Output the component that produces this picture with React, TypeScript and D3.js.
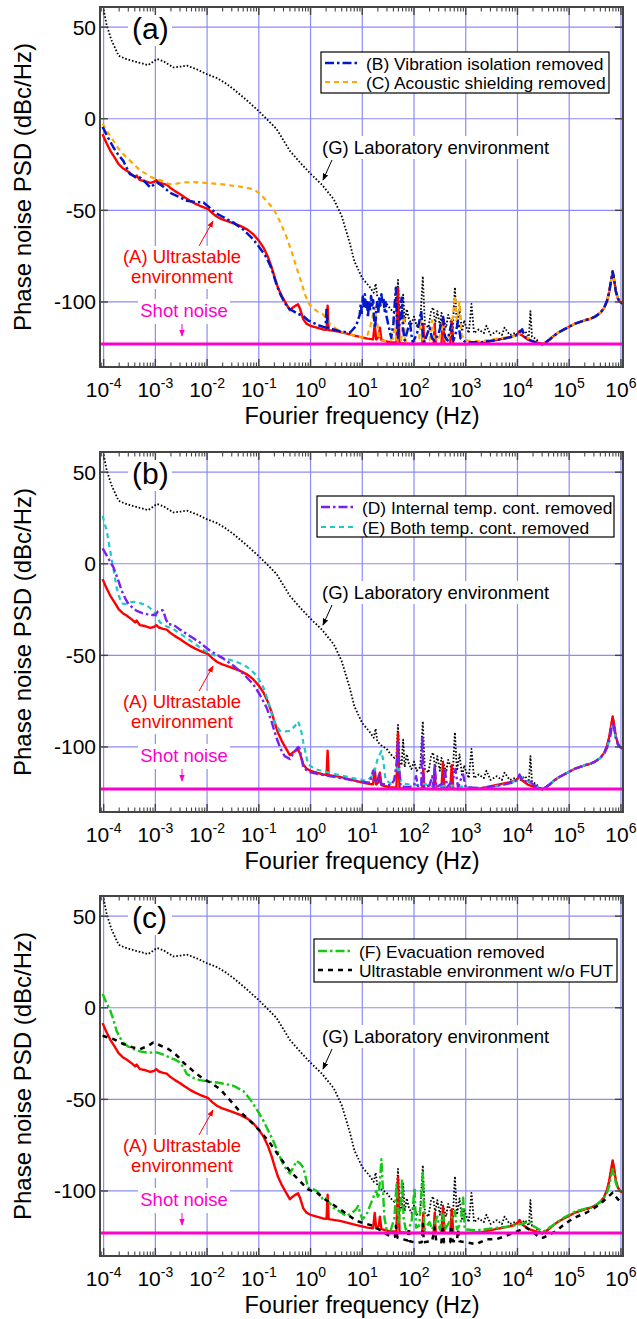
import React from 'react';
import * as d3 from 'd3';

// every series: [log10(frequency / Hz), phase noise PSD in dBc/Hz]
type Pt = [number, number];

const decades = [-4, -3, -2, -1, 0, 1, 2, 3, 4, 5, 6];
const yTicks = [-100, -50, 0, 50];
const shotNoise = -123;

// shared high-frequency part (30 kHz .. 1 MHz)
const tailA: Pt[] = [
  [4.55, -122], [4.62, -120.5], [4.7, -118.5], [4.8, -116.5], [4.9, -115], [5.0, -113.5],
  [5.1, -112], [5.2, -111], [5.3, -110], [5.4, -109.3], [5.5, -108], [5.6, -106],
  [5.67, -103.5], [5.73, -99.5], [5.77, -95], [5.8, -90], [5.84, -83.3], [5.87, -88],
  [5.9, -94], [5.94, -98], [5.98, -100], [6.04, -101],
];
const tailD: Pt[] = [
  [4.55, -122], [4.62, -120.5], [4.7, -118.5], [4.8, -116.5], [4.9, -115], [5.0, -113.5],
  [5.1, -112], [5.2, -111], [5.3, -110], [5.4, -109.3], [5.5, -108], [5.6, -106],
  [5.67, -104], [5.73, -100.5], [5.77, -97], [5.8, -93], [5.84, -86.5], [5.87, -90],
  [5.9, -95], [5.94, -98.5], [5.98, -100], [6.04, -101],
];
const tailF: Pt[] = [
  [4.55, -121.5], [4.62, -120], [4.7, -118.5], [4.8, -116.5], [4.9, -114.5], [5.0, -113],
  [5.1, -111.5], [5.2, -110.5], [5.3, -109.8], [5.4, -109.2], [5.5, -108], [5.6, -106],
  [5.67, -104], [5.73, -101], [5.77, -97.5], [5.8, -93.5], [5.84, -88], [5.87, -91],
  [5.9, -95.5], [5.94, -98.5], [5.98, -100], [6.04, -101],
];

// (G) Laboratory environment
const labEnv: Pt[] = [
  [-4.0, 59.6], [-3.94, 51], [-3.85, 43], [-3.71, 34.4], [-3.6, 33], [-3.49, 32], [-3.3, 30.5],
  [-3.14, 29.3], [-3.05, 31], [-2.97, 32.6], [-2.85, 31.5], [-2.65, 28], [-2.5, 28.5],
  [-2.39, 29], [-2.2, 27], [-2.01, 24.4], [-1.81, 22.2], [-1.65, 19.5], [-1.49, 16.2],
  [-1.25, 10.5], [-1.01, 4.4], [-0.8, -1.5], [-0.66, -5.5], [-0.4, -17.5], [-0.2, -24],
  [0, -30], [0.22, -36], [0.45, -44], [0.6, -53], [0.75, -67], [0.85, -78], [1.0, -87],
  [1.15, -92], [1.22, -95], [1.26, -90], [1.29, -97], [1.36, -99], [1.47, -101], [1.55, -104],
  [1.62, -106], [1.66, -105], [1.69, -88], [1.72, -107], [1.76, -110], [1.79, -96],
  [1.82, -111], [1.86, -104], [1.9, -109], [1.95, -112], [2.0, -108], [2.05, -113],
  [2.12, -111], [2.17, -86], [2.21, -112], [2.28, -114], [2.33, -105], [2.37, -103],
  [2.41, -112], [2.45, -105], [2.5, -113], [2.53, -106], [2.56, -108], [2.62, -114],
  [2.66, -107], [2.7, -110], [2.75, -115], [2.79, -92], [2.83, -113], [2.88, -104],
  [2.93, -116], [2.97, -110], [3.0, -113], [3.06, -117], [3.11, -101], [3.16, -117],
  [3.25, -115], [3.35, -117], [3.4, -113], [3.48, -118], [3.6, -116], [3.7, -118],
  [3.75, -114], [3.85, -118], [3.95, -117], [4.05, -118], [4.15, -116], [4.22, -119],
  [4.25, -105], [4.28, -119], [4.35, -120], [4.45, -123], [4.5, -123.5],
  ...tailA,
];

// (A) Ultrastable environment
const ultrastable: Pt[] = [
  [-4.02, -8.4], [-3.95, -13], [-3.87, -17.5], [-3.78, -21.5], [-3.71, -24.8], [-3.63, -27],
  [-3.55, -28.4], [-3.45, -30.5], [-3.39, -32], [-3.36, -31], [-3.3, -33.5], [-3.2, -34],
  [-3.1, -35], [-3.03, -34.5], [-2.98, -33.5], [-2.93, -34.8], [-2.85, -35.5], [-2.78, -36],
  [-2.72, -37.5], [-2.62, -39.5], [-2.52, -41.2], [-2.43, -43], [-2.33, -44.8],
  [-2.23, -46.3], [-2.14, -47.5], [-2.05, -48.5], [-1.98, -49.3], [-1.9, -51.5],
  [-1.81, -53.5], [-1.72, -54.8], [-1.62, -55.7], [-1.5, -57], [-1.36, -58.5],
  [-1.22, -60.5], [-1.11, -63], [-1.0, -66.5], [-0.91, -70.3], [-0.83, -75], [-0.75, -81.3],
  [-0.69, -87], [-0.63, -92.2], [-0.56, -96.5], [-0.5, -99.5], [-0.44, -102.5],
  [-0.4, -104.5], [-0.34, -103], [-0.29, -102], [-0.24, -101.3], [-0.2, -104],
  [-0.14, -109.5], [-0.08, -111.8], [0, -113], [0.12, -114], [0.24, -115], [0.31, -115.2],
  [0.33, -102], [0.35, -115.4], [0.57, -116.3], [0.89, -118.6], [1.1, -120], [1.21, -120.4],
  [1.24, -112], [1.27, -120.5], [1.32, -119], [1.34, -114], [1.37, -120.8], [1.53, -122],
  [1.66, -122.3], [1.69, -92.5], [1.72, -122.5], [1.98, -123], [2.16, -122.8], [2.18, -112],
  [2.2, -122.8], [2.38, -123], [2.4, -112], [2.42, -123], [2.53, -123], [2.56, -108.5],
  [2.59, -123], [2.7, -123], [2.73, -110], [2.76, -123], [3.0, -123], [3.3, -122.5],
  [3.65, -120.4], [3.9, -119], [4.0, -117.5], [4.04, -115.8], [4.08, -118], [4.2, -120.5],
  [4.35, -122], [4.48, -123],
  ...tailA,
];

// (B) Vibration isolation removed
const vibration: Pt[] = [
  [-4.02, -4.4], [-3.92, -10], [-3.81, -15.7], [-3.72, -19.5], [-3.62, -23], [-3.55, -27],
  [-3.49, -30.2], [-3.4, -31.5], [-3.3, -32], [-3.2, -34.5], [-3.1, -37.5], [-3.03, -36],
  [-2.97, -34.8], [-2.85, -37], [-2.72, -40.3], [-2.55, -42.5], [-2.39, -44.8], [-2.2, -45.5],
  [-2.07, -45.7], [-1.95, -48.5], [-1.85, -51.2], [-1.7, -53.5], [-1.49, -56.7], [-1.3, -60.5],
  [-1.11, -65.7], [-0.98, -70.5], [-0.85, -75.8], [-0.75, -82], [-0.66, -90.3], [-0.58, -96],
  [-0.5, -100.4], [-0.42, -103.5], [-0.34, -104.9], [-0.24, -106.5], [-0.14, -107.7],
  [-0.05, -110], [0.05, -111.3], [0.18, -113], [0.29, -114], [0.31, -103], [0.33, -114],
  [0.57, -116], [0.76, -116.8], [0.85, -114], [0.89, -112.2], [0.95, -107], [0.97, -101],
  [0.99, -106], [1.01, -97], [1.03, -103], [1.05, -95.8], [1.07, -104], [1.09, -100],
  [1.11, -108.6], [1.13, -99], [1.15, -104], [1.17, -96.7], [1.19, -103], [1.21, -99],
  [1.23, -110], [1.25, -114], [1.27, -104], [1.29, -100], [1.31, -106], [1.33, -97],
  [1.35, -102], [1.37, -95.8], [1.39, -101], [1.41, -98], [1.43, -104.9], [1.45, -100],
  [1.47, -108], [1.5, -112], [1.56, -119.5], [1.6, -112],
  [1.65, -92.2], [1.67, -110], [1.69, -119.5], [1.73, -108], [1.76, -97.7], [1.79, -115],
  [1.82, -121], [1.87, -116], [1.92, -110.4], [1.95, -118], [1.98, -122], [2.06, -117],
  [2.14, -104.9], [2.17, -118], [2.2, -122], [2.25, -118], [2.3, -114], [2.35, -120],
  [2.4, -121], [2.48, -117], [2.56, -107.7], [2.6, -119], [2.65, -121], [2.72, -112.2],
  [2.76, -121], [2.8, -118], [2.85, -110.4], [2.9, -120], [3.0, -122], [3.3, -122],
  [3.65, -120.5], [3.9, -119], [4.0, -118], [4.09, -114.9], [4.14, -119], [4.25, -121],
  [4.4, -122.5], [4.48, -123],
  ...tailA,
];

// (C) Acoustic shielding removed
const acoustic: Pt[] = [
  [-4.02, -2.6], [-3.92, -7.5], [-3.81, -12], [-3.72, -16], [-3.62, -19.3], [-3.52, -22],
  [-3.42, -24.8], [-3.3, -28], [-3.17, -30.2], [-3.07, -32], [-2.97, -33], [-2.85, -34],
  [-2.75, -35.5], [-2.65, -35.7], [-2.55, -35.2], [-2.46, -34.8], [-2.3, -34.6],
  [-2.14, -34.8], [-1.9, -35.3], [-1.7, -35.8], [-1.49, -36.6], [-1.3, -37.3], [-1.11, -38.4],
  [-0.98, -40.8], [-0.85, -44.8], [-0.75, -48], [-0.66, -52], [-0.56, -58], [-0.46, -64.9],
  [-0.36, -73], [-0.27, -81.3], [-0.18, -89], [-0.11, -95.8], [-0.03, -101], [0.05, -103.5],
  [0.15, -105.5], [0.24, -106.7], [0.32, -110], [0.41, -113], [0.57, -116], [0.8, -118],
  [1.0, -119.5], [1.1, -118], [1.15, -114], [1.2, -108], [1.24, -103], [1.28, -110],
  [1.32, -118], [1.36, -121], [1.5, -121.5], [1.6, -120], [1.63, -108], [1.66, -121],
  [1.75, -121], [1.8, -108], [1.83, -121], [2.0, -122], [2.1, -120], [2.14, -110],
  [2.18, -121], [2.3, -121], [2.35, -110], [2.4, -121], [2.5, -119], [2.55, -112],
  [2.6, -121], [2.7, -118], [2.75, -108], [2.79, -96.7], [2.83, -110], [2.88, -100],
  [2.92, -118], [3.0, -121], [3.3, -121.5], [3.6, -120], [3.9, -119], [4.0, -118],
  [4.1, -116.5], [4.2, -119.5], [4.35, -122], [4.48, -123],
  ...tailA,
];

// (D) Internal temp. cont. removed
const internalTemp: Pt[] = [
  [-4.02, 8.4], [-3.92, 3.5], [-3.81, -2], [-3.73, -8], [-3.65, -14.8], [-3.58, -19],
  [-3.52, -22], [-3.44, -24], [-3.36, -25.7], [-3.25, -27], [-3.17, -27.5], [-3.05, -28],
  [-3.0, -28], [-2.95, -26], [-2.9, -25.3], [-2.85, -25.5], [-2.8, -30], [-2.75, -33],
  [-2.65, -33.3], [-2.52, -36], [-2.39, -38.4], [-2.25, -41], [-2.14, -43], [-2.04, -45.3],
  [-1.94, -47.5], [-1.7, -51.5], [-1.49, -55.7], [-1.3, -60], [-1.11, -65.7], [-0.98, -71.5],
  [-0.85, -78.5], [-0.75, -86.5], [-0.66, -94.9], [-0.58, -101], [-0.5, -105], [-0.4, -106.6],
  [-0.3, -102.2], [-0.24, -100], [-0.21, -101], [-0.14, -111], [-0.05, -113.5], [0.18, -115],
  [0.5, -116.5], [0.89, -118.6], [1.15, -119.5], [1.19, -115], [1.21, -113], [1.23, -119.8],
  [1.3, -118], [1.33, -114], [1.36, -120], [1.55, -121], [1.62, -118], [1.66, -109.5],
  [1.69, -97.6], [1.71, -110], [1.74, -121.5], [1.9, -122], [2.0, -121], [2.04, -116],
  [2.08, -122], [2.14, -121], [2.16, -94], [2.19, -122], [2.3, -121], [2.35, -116],
  [2.38, -122], [2.4, -109.5], [2.43, -122], [2.55, -120], [2.6, -113], [2.64, -122],
  [2.75, -118], [2.8, -112], [2.85, -122], [2.9, -118], [2.95, -115], [3.0, -122],
  [3.3, -122.5], [3.65, -121], [3.9, -119.5], [4.0, -118], [4.04, -115], [4.1, -118.5],
  [4.25, -119], [4.3, -120.5], [4.48, -123],
  ...tailD,
];

// (E) Both temp. cont. removed
const bothTemp: Pt[] = [
  [-4.02, 26.2], [-3.98, 22], [-3.94, 18], [-3.89, 10], [-3.84, 1.6], [-3.79, -6],
  [-3.75, -13], [-3.7, -18], [-3.65, -21.7], [-3.55, -22], [-3.48, -21], [-3.42, -20.8],
  [-3.3, -21.5], [-3.17, -22.6], [-3.07, -25], [-3.0, -27.5], [-2.91, -32], [-2.8, -34],
  [-2.65, -35.7], [-2.45, -39.5], [-2.27, -43], [-2.1, -46.5], [-1.94, -49.3], [-1.7, -51.3],
  [-1.49, -53], [-1.3, -55], [-1.17, -57.5], [-1.03, -61.5], [-0.91, -67.6], [-0.83, -74],
  [-0.75, -82.1], [-0.67, -88], [-0.59, -91.3], [-0.5, -91.5], [-0.4, -91.3], [-0.3, -88.5],
  [-0.24, -86], [-0.19, -90], [-0.14, -97.5], [-0.09, -104], [-0.05, -109.5], [0.1, -112.2],
  [0.5, -115], [0.9, -117.5], [1.1, -118.5], [1.18, -116], [1.25, -112], [1.3, -106],
  [1.37, -102.2], [1.41, -108], [1.45, -118], [1.55, -120], [1.62, -117], [1.66, -113],
  [1.7, -110], [1.74, -118], [1.8, -120], [2.0, -121], [2.16, -120], [2.4, -121.5],
  [2.7, -121], [3.0, -122], [3.3, -122.5], [3.65, -121], [3.9, -119.5], [4.0, -117],
  [4.08, -116.5], [4.15, -118], [4.3, -120.5], [4.48, -123],
  ...tailD,
];

// (F) Evacuation removed
const evacuation: Pt[] = [
  [-4.02, 7.5], [-3.95, 3], [-3.87, -1.6], [-3.8, -7.5], [-3.75, -12.6], [-3.68, -16.5],
  [-3.62, -19], [-3.52, -21.3], [-3.42, -22.6], [-3.3, -23.8], [-3.17, -24.4], [-3.05, -24.5],
  [-2.97, -24.4], [-2.85, -25.6], [-2.72, -27.2], [-2.62, -28.3], [-2.52, -29.9], [-2.45, -33],
  [-2.39, -36.2], [-2.25, -38.5], [-2.14, -39.5], [-1.95, -40.3], [-1.81, -40.8],
  [-1.65, -41.6], [-1.49, -42.6], [-1.3, -45.5], [-1.17, -49.9], [-1.05, -55], [-0.91, -61.7],
  [-0.82, -67], [-0.72, -72.7], [-0.62, -79.5], [-0.53, -85.4], [-0.46, -88.5], [-0.4, -90.5],
  [-0.33, -87], [-0.27, -83.6], [-0.2, -85], [-0.14, -87.3], [-0.09, -93], [-0.05, -98.2],
  [0.05, -99], [0.12, -100], [0.18, -102], [0.24, -104.6], [0.3, -104], [0.35, -106],
  [0.44, -109.1], [0.55, -111], [0.69, -113.7], [0.8, -112], [0.88, -110], [0.92, -108.2],
  [0.96, -112], [1.0, -115.5], [1.08, -113], [1.15, -108], [1.21, -103.7], [1.27, -100],
  [1.31, -104], [1.34, -95], [1.37, -82.7], [1.4, -100], [1.43, -115], [1.47, -121],
  [1.55, -121.3], [1.62, -115], [1.66, -96.4], [1.7, -118], [1.74, -109], [1.77, -93.6],
  [1.8, -115], [1.84, -121], [1.95, -118], [2.01, -98.2], [2.04, -120], [2.1, -119],
  [2.17, -90], [2.2, -121], [2.3, -117], [2.35, -121], [2.45, -114], [2.5, -121],
  [2.56, -112.7], [2.6, -121], [2.7, -116], [2.79, -111], [2.83, -121], [2.9, -118],
  [2.95, -103.7], [2.98, -121], [3.2, -121.5], [3.5, -120.5], [3.8, -119.5], [4.0, -118.5],
  [4.15, -117.5], [4.23, -116.4], [4.3, -119], [4.45, -121.5], [4.5, -122],
  ...tailF,
];

// Ultrastable environment w/o FUT
const withoutFut: Pt[] = [
  [-4.02, -15.3], [-3.81, -17.1], [-3.62, -19.8], [-3.45, -21.5], [-3.3, -22.6], [-3.15, -21],
  [-3.04, -19], [-2.95, -20], [-2.85, -21.3], [-2.75, -22.5], [-2.65, -24.4], [-2.55, -27],
  [-2.46, -29.9], [-2.33, -33], [-2.2, -36.2], [-2.07, -38.8], [-1.94, -40.8], [-1.75, -44.4],
  [-1.62, -48.5], [-1.49, -52.6], [-1.37, -56.5], [-1.24, -59.9], [-1.1, -63.7],
  [-0.98, -67.2], [-0.79, -73.6], [-0.59, -81.8], [-0.4, -89.1], [-0.21, -94.5],
  [-0.05, -99.1], [0.12, -100.9], [0.3, -105], [0.57, -110], [0.89, -116.4], [1.21, -119],
  [1.53, -124.6], [1.63, -125], [1.65, -119], [1.68, -125.5], [1.79, -126.4], [1.88, -127],
  [1.9, -120], [1.92, -127.5], [2.05, -128.3], [2.15, -128], [2.17, -118], [2.19, -128],
  [2.35, -127.4], [2.4, -120], [2.43, -127.5], [2.53, -128], [2.55, -119], [2.58, -128],
  [2.7, -128], [2.72, -119], [2.75, -127.5], [2.83, -127.5], [2.85, -121], [2.88, -127.5],
  [3.0, -128], [3.2, -129.1], [3.4, -126.4], [3.59, -126.4], [3.85, -123.7], [4.17, -120],
  [4.3, -122.5], [4.43, -125.5], [4.5, -125.5], [4.6, -124], [4.75, -121.9], [4.87, -119],
  [5.0, -116.4], [5.15, -114], [5.33, -111.9], [5.47, -109.5], [5.59, -107.3], [5.72, -104],
  [5.8, -102], [5.84, -100.9], [5.9, -103], [5.94, -104.5], [6.0, -106], [6.04, -106.5],
];

const FONT = '"Liberation Sans", Arial, Helvetica, sans-serif';
const GRID = '#8c8cf5';
const FRAME = '#444';

const L = 100, R = 623, T = 7, B = 367;

const x = d3.scaleLog().domain([10 ** -4.07, 10 ** 6.04]).range([L, R]);
const y = d3.scaleLinear().domain([-135.5, 61]).range([B, T]);

const line = d3
  .line<Pt>()
  .x((d) => x(10 ** d[0]))
  .y((d) => y(d[1]));

type Series = { data: Pt[]; color: string; width: number; dash?: string };

const G: Series = { data: labEnv, color: '#000', width: 1.8, dash: '1.6,1.9' };
const A: Series = { data: ultrastable, color: '#ff0000', width: 2.4 };
const Bv: Series = { data: vibration, color: '#0018c8', width: 2.5, dash: '9,3,2.5,3' };
const C: Series = { data: acoustic, color: '#ffa800', width: 2.2, dash: '5,4' };
const D: Series = { data: internalTemp, color: '#7a1ff0', width: 2.4, dash: '9,3,2.5,3' };
const E: Series = { data: bothTemp, color: '#1ec8c8', width: 2.2, dash: '5,4' };
const F: Series = { data: evacuation, color: '#14c814', width: 2.4, dash: '9,3,2.5,3' };
const Wf: Series = { data: withoutFut, color: '#000', width: 2.5, dash: '5,5' };

type LegendRow = { label: string; s: Series };
type Panel = {
  letter: string;
  dy: number;
  series: Series[];
  legend: LegendRow[];
  box: { x0: number; x1: number; y0: number; y1: number; rows: number[]; tx: number };
};

const panels: Panel[] = [
  {
    letter: '(a)',
    dy: 0,
    series: [G, A, C, Bv],
    legend: [
      { label: '(B) Vibration isolation removed', s: Bv },
      { label: '(C) Acoustic shielding removed', s: C },
    ],
    box: { x0: 321, x1: 609, y0: 52, y1: 93, rows: [63, 82], tx: 366 },
  },
  {
    letter: '(b)',
    dy: 445,
    series: [G, A, E, D],
    legend: [
      { label: '(D) Internal temp. cont. removed', s: D },
      { label: '(E) Both temp. cont. removed', s: E },
    ],
    box: { x0: 317, x1: 614, y0: 51, y1: 92, rows: [62, 82], tx: 362 },
  },
  {
    letter: '(c)',
    dy: 889,
    series: [G, A, F, Wf],
    legend: [
      { label: '(F) Evacuation removed', s: F },
      { label: 'Ultrastable environment w/o FUT', s: Wf },
    ],
    box: { x0: 314, x1: 617, y0: 50, y1: 93, rows: [62, 81], tx: 359 },
  },
];

const minorTicks: number[] = [];
for (let k = -5; k <= 5; k++) {
  for (let m = 2; m <= 9; m++) {
    const v = m * 10 ** k;
    if (v > x.domain()[0] && v < x.domain()[1]) minorTicks.push(v);
  }
}

const PanelView = ({ p, idx }: { p: Panel; idx: number }) => {
  const clipId = `clip-${idx}`;
  return (
    <g transform={`translate(0,${p.dy})`} fontFamily={FONT}>
      <defs>
        <clipPath id={clipId}>
          <rect x={L} y={T} width={R - L} height={B - T} />
        </clipPath>
      </defs>
      <rect x={L} y={T} width={R - L} height={B - T} fill="#fff" />
      {/* grid */}
      {decades.map((e) => (
        <line key={'gx' + e} x1={x(10 ** e)} x2={x(10 ** e)} y1={T} y2={B} stroke={GRID} strokeWidth={1.2} />
      ))}
      {yTicks.map((v) => (
        <line key={'gy' + v} x1={L} x2={R} y1={y(v)} y2={y(v)} stroke={GRID} strokeWidth={1.2} />
      ))}
      {/* label backgrounds */}
      <rect x={128} y={9} width={44} height={37} fill="#fff" />
      <rect x={320} y={136} width={230} height={23} fill="#fff" />
      <rect x={120} y={246} width={124} height={43} fill="#fff" />
      <rect x={138} y={299} width={92} height={25} fill="#fff" />
      {/* curves */}
      <g clipPath={`url(#${clipId})`}>
        {p.series.map((s, i) => (
          <path
            key={i}
            d={line(s.data) || ''}
            fill="none"
            stroke={s.color}
            strokeWidth={s.width}
            strokeDasharray={s.dash}
            strokeLinejoin="round"
          />
        ))}
        <line x1={L} x2={R} y1={y(shotNoise)} y2={y(shotNoise)} stroke="#ff00cc" strokeWidth={3} />
      </g>
      {/* frame and ticks */}
      {decades.map((e) => (
        <g key={'tk' + e}>
          <line x1={x(10 ** e)} x2={x(10 ** e)} y1={T} y2={T + 8} stroke={FRAME} strokeWidth={1.4} />
          <line x1={x(10 ** e)} x2={x(10 ** e)} y1={B} y2={B - 8} stroke={FRAME} strokeWidth={1.4} />
        </g>
      ))}
      {minorTicks.map((v, i) => (
        <g key={'mt' + i}>
          <line x1={x(v)} x2={x(v)} y1={T} y2={T + 4.5} stroke={FRAME} strokeWidth={1.1} />
          <line x1={x(v)} x2={x(v)} y1={B} y2={B - 4.5} stroke={FRAME} strokeWidth={1.1} />
        </g>
      ))}
      {yTicks.map((v) => (
        <g key={'yt' + v}>
          <line x1={L} x2={L + 8} y1={y(v)} y2={y(v)} stroke={FRAME} strokeWidth={1.4} />
          <line x1={R} x2={R - 8} y1={y(v)} y2={y(v)} stroke={FRAME} strokeWidth={1.4} />
        </g>
      ))}
      <rect x={L} y={T} width={R - L} height={B - T} fill="none" stroke={FRAME} strokeWidth={2} />
      {/* tick labels */}
      {yTicks.map((v) => (
        <text key={'yl' + v} x={96} y={y(v) + 7.5} fontSize={21} textAnchor="end" fill="#000">
          {v}
        </text>
      ))}
      {decades.map((e) => (
        <text key={'xl' + e} x={x(10 ** e)} y={397} fontSize={21} textAnchor="middle" fill="#000">
          10
          <tspan fontSize={14} dy={-9}>
            {e < 0 ? '-' + Math.abs(e) : String(e)}
          </tspan>
        </text>
      ))}
      <text x={362} y={424} fontSize={23.5} textAnchor="middle" fill="#000">
        Fourier frequency (Hz)
      </text>
      <text
        transform={`translate(31,${(T + B) / 2}) rotate(-90)`}
        fontSize={24}
        textAnchor="middle"
        fill="#000"
      >
        Phase noise PSD (dBc/Hz)
      </text>
      {/* annotations */}
      <text x={132} y={39} fontSize={30} fill="#000">
        {p.letter}
      </text>
      <text x={322} y={154} fontSize={18.5} fill="#000">
        (G) Laboratory environment
      </text>
      <line x1={332} y1={160} x2={323} y2={180} stroke="#000" strokeWidth={1} markerEnd="url(#ah-black)" />
      <text x={182} y={263} fontSize={18.5} fill="#ff0000" textAnchor="middle">
        (A) Ultrastable
      </text>
      <text x={182} y={283} fontSize={18.5} fill="#ff0000" textAnchor="middle">
        environment
      </text>
      <line x1={199} y1={246} x2={213} y2={221} stroke="#ff0000" strokeWidth={1} markerEnd="url(#ah-red)" />
      <text x={184} y={317} fontSize={18.5} fill="#ff00cc" textAnchor="middle">
        Shot noise
      </text>
      <line x1={182} y1={324} x2={182} y2={336} stroke="#ff00cc" strokeWidth={1} markerEnd="url(#ah-mag)" />
      {/* legend */}
      <rect
        x={p.box.x0}
        y={p.box.y0}
        width={p.box.x1 - p.box.x0}
        height={p.box.y1 - p.box.y0}
        fill="#fff"
        stroke="#000"
        strokeWidth={1.2}
      />
      {p.legend.map((r, i) => (
        <g key={'lg' + i}>
          <line
            x1={p.box.x0 + 4}
            x2={p.box.tx - 7}
            y1={p.box.rows[i]}
            y2={p.box.rows[i]}
            stroke={r.s.color}
            strokeWidth={r.s.width}
            strokeDasharray={r.s.dash}
          />
          <text x={p.box.tx} y={p.box.rows[i] + 6.5} fontSize={17.4} fill="#000">
            {r.label}
          </text>
        </g>
      ))}
    </g>
  );
};

const Arrow = ({ id, color }: { id: string; color: string }) => (
  <marker id={id} viewBox="0 0 10 10" refX={9} refY={5} markerWidth={7} markerHeight={7} orient="auto">
    <path d="M0,1 L10,5 L0,9 z" fill={color} />
  </marker>
);

export default function App() {
  return (
    <svg
      width={637}
      height={1319}
      viewBox="0 0 637 1319"
      style={{ position: 'absolute', left: 0, top: 0, background: '#fff' }}
    >
      <defs>
        <Arrow id="ah-black" color="#000" />
        <Arrow id="ah-red" color="#ff0000" />
        <Arrow id="ah-mag" color="#ff00cc" />
      </defs>
      <rect width={637} height={1319} fill="#fff" />
      {panels.map((p, i) => (
        <PanelView key={i} p={p} idx={i} />
      ))}
    </svg>
  );
}
